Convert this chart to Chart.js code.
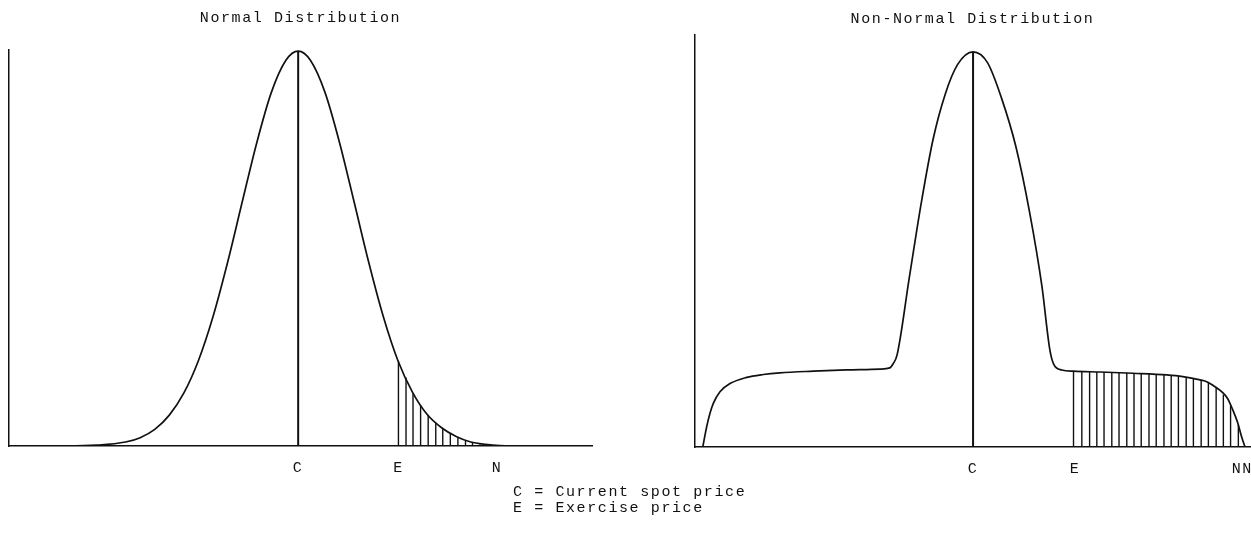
<!DOCTYPE html>
<html>
<head>
<meta charset="utf-8">
<script src="https://cdn.jsdelivr.net/npm/chart.js@4.4.0/dist/chart.umd.min.js"></script>
<style>
  body { margin: 0; width: 1251px; height: 546px; overflow: hidden; background: #fff; position: relative; }
  canvas { position: absolute; top: 0; }
  #leftChart { left: 0; }
  #rightChart { left: 640px; }
  .note {
    position: absolute; left: 513px; top: 485px;
    font: 15px 'Liberation Mono', monospace; line-height: 16px;
    letter-spacing: 1.6px; white-space: pre; color: #111;
  }
</style>
</head>
<body>
<canvas id="leftChart" width="602" height="546"></canvas>
<canvas id="rightChart" width="650" height="546"></canvas>
<div class="note">C = Current spot price
E = Exercise price</div>
<script>
    // Normal distribution (x: 0-100 along the axis, y: 0-100 of axis height)
    const leftCurveX = [0, 10, 15, 20, 22.5, 25, 27.5, 30, 32.5, 35, 37.5, 40, 42.5, 45, 47.5, 49.6, 51.7, 54.2, 56.7, 59.2, 61.7, 64.2, 66.7, 69.2, 71.7, 74.2, 76.7, 79.2, 81.7, 84.2, 89.2, 100];
    const leftCurveY = [0, 0, 0.2, 1.0, 2.1, 4.2, 7.8, 13.4, 21.6, 32.7, 46.4, 61.6, 76.6, 89.3, 97.4, 99.7, 97.4, 89.3, 76.6, 61.6, 46.4, 32.7, 21.6, 13.6, 8.0, 4.6, 2.4, 1.0, 0.4, 0.1, 0, 0];
    const leftHatchX = [66.8, 68.1, 69.3, 70.6, 71.9, 73.2, 74.4, 75.7, 77.0, 78.3, 79.5, 80.8];
    const leftHatchY = [21.5, 17.3, 13.3, 10.3, 7.8, 5.9, 4.4, 3.1, 2.1, 1.3, 0.8, 0.4];
    const leftPeak = { x: 49.6, y: 99.7 };
    const leftTickValues = [49.6, 66.8, 83.7];
    const leftTickLabels = ['C', 'E', 'N'];

    // Non-normal distribution
    const rightCurveX = [1.4, 2.1, 2.7, 3.3, 4.5, 6.3, 9.3, 12.3, 15.3, 21.3, 27.3, 33.3, 35.1, 35.7, 36.4, 38.6, 40.8, 42.9, 45.1, 47.3, 50.1, 52.7, 55.2, 57.8, 60.3, 62.5, 63.9, 64.6, 66.1, 68.2, 73.0, 78.9, 85.0, 87.9, 91.0, 92.3, 93.3, 95.9, 96.9, 97.8, 98.5, 99.1];
    const rightCurveY = [0, 4.9, 8.2, 10.6, 13.4, 15.4, 16.9, 17.6, 18.0, 18.4, 18.7, 18.9, 19.2, 20.2, 22.3, 41.0, 59.5, 74.7, 85.7, 92.8, 95.9, 93.3, 84.8, 73.0, 56.9, 39.1, 23.9, 20.2, 18.7, 18.4, 18.2, 17.9, 17.5, 17.1, 16.3, 15.8, 15.0, 11.9, 9.0, 5.8, 2.4, 0];
    const rightHatchX = [68.2, 69.7, 71.1, 72.4, 73.7, 75.1, 76.4, 77.8, 79.1, 80.4, 81.8, 83.1, 84.5, 85.8, 87.1, 88.5, 89.8, 91.2, 92.5, 93.9, 95.2, 96.5, 97.9];
    const rightHatchY = [18.4, 18.3, 18.3, 18.2, 18.2, 18.1, 18.0, 18.0, 17.9, 17.8, 17.7, 17.6, 17.5, 17.4, 17.2, 17.0, 16.7, 16.3, 15.8, 14.4, 12.7, 10.0, 5.4];
    const rightPeak = { x: 50.1, y: 95.9 };
    const rightTickValues = [50.1, 68.5, 98.6];
    const rightTickLabels = ['C', 'E', 'NN'];

    const ink = '#111';
    Chart.defaults.font.family = "'Liberation Mono', monospace";
    Chart.defaults.color = ink;

    // typewriter-ish spacing for canvas text
    const letterSpacing = {
      id: 'letterSpacing',
      beforeDraw(chart) { chart.ctx.letterSpacing = '1.6px'; }
    };

    function toPoints(xs, ys) {
      return xs.map((x, i) => ({ x: x, y: ys[i] }));
    }

    function makeChart(id, o) {
      const ctx = document.getElementById(id);
      return new Chart(ctx, {
        type: 'line',
        data: {
          datasets: [
            {
              type: 'line',
              data: toPoints(o.curveX, o.curveY),
              borderColor: ink,
              borderWidth: 1.7,
              pointRadius: 0,
              cubicInterpolationMode: 'monotone',
              fill: false
            },
            {
              type: 'bar',
              data: [o.peak],
              backgroundColor: ink,
              maxBarThickness: 2,
              grouped: false
            },
            {
              type: 'bar',
              data: toPoints(o.hatchX, o.hatchY),
              backgroundColor: ink,
              maxBarThickness: 1.4,
              grouped: false
            }
          ]
        },
        options: {
          responsive: false,
          animation: false,
          events: [],
          layout: { padding: o.padding },
          plugins: {
            legend: { display: false },
            tooltip: { enabled: false },
            title: {
              display: true,
              text: o.title,
              color: ink,
              font: { size: 15, weight: 'normal' },
              padding: o.titlePadding
            }
          },
          scales: {
            x: {
              type: 'linear',
              min: 0,
              max: 100,
              offset: false,
              bounds: 'data',
              grid: { display: false, drawTicks: false },
              border: { display: true, color: ink, width: 1.5 },
              afterBuildTicks: scale => {
                scale.ticks = o.tickValues.map(v => ({ value: v }));
              },
              ticks: {
                autoSkip: false,
                maxRotation: 0,
                padding: 13,
                color: ink,
                font: { size: 15 },
                callback: (v, i) => o.tickLabels[i]
              }
            },
            y: {
              min: 0,
              max: 100,
              grid: { display: false, drawTicks: false },
              border: { display: true, color: ink, width: 1.5 },
              ticks: { display: false }
            }
          }
        },
        plugins: [letterSpacing]
      });
    }

    makeChart('leftChart', {
      title: 'Normal Distribution',
      curveX: leftCurveX, curveY: leftCurveY,
      hatchX: leftHatchX, hatchY: leftHatchY,
      peak: leftPeak,
      tickValues: leftTickValues, tickLabels: leftTickLabels,
      padding: { left: 9, right: 10, top: 0, bottom: 56 },
      titlePadding: { top: 9, bottom: 23 }
    });

    makeChart('rightChart', {
      title: 'Non-Normal Distribution',
      curveX: rightCurveX, curveY: rightCurveY,
      hatchX: rightHatchX, hatchY: rightHatchY,
      peak: rightPeak,
      tickValues: rightTickValues, tickLabels: rightTickLabels,
      padding: { left: 55, right: 40, top: 0, bottom: 55 },
      titlePadding: { top: 10, bottom: 7 }
    });
</script>
</body>
</html>
